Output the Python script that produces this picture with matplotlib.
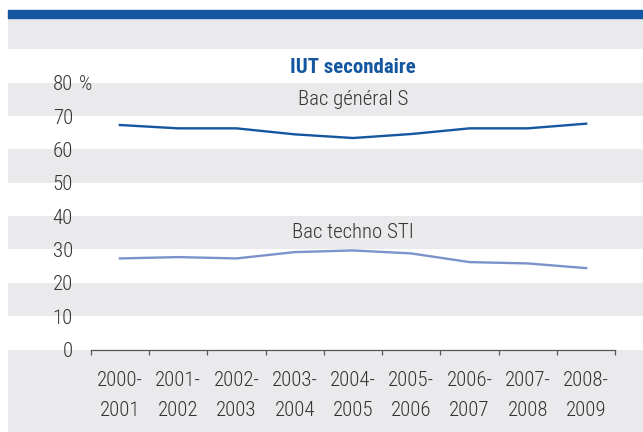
import matplotlib
matplotlib.use("Agg")
import matplotlib.pyplot as plt
from matplotlib import font_manager
from matplotlib.patches import Rectangle

# ---------------- data ----------------
categories = ["2000-\n2001", "2001-\n2002", "2002-\n2003", "2003-\n2004", "2004-\n2005",
              "2005-\n2006", "2006-\n2007", "2007-\n2008", "2008-\n2009"]
bac_general_s = [67.3, 66.3, 66.3, 64.5, 63.4, 64.6, 66.3, 66.3, 67.7]
bac_techno_sti = [27.3, 27.7, 27.3, 29.2, 29.7, 28.8, 26.2, 25.8, 24.4]
y_ticks = [0, 10, 20, 30, 40, 50, 60, 70, 80]
y_ticklabels = ["0", "10", "20", "30", "40", "50", "60", "70", "80"]
title = "IUT secondaire"
series_names = ["Bac général S", "Bac techno STI"]

# ---------------- fonts ----------------
available = {f.name for f in font_manager.fontManager.ttflist}
family = "DejaVu Sans"
for cand in ["Roboto Condensed", "Liberation Sans Narrow", "DejaVu Sans Condensed",
             "Open Sans Condensed", "Liberation Sans"]:
    if cand in available:
        family = cand
        break
plt.rcParams["font.family"] = [family, "DejaVu Sans"]
LW = "light"

TEXT = "#333333"
BLUE = "#1457A0"
LIGHT = "#7B92CB"
BAND = "#EAEAEC"

W, H = 643, 432
fig = plt.figure(figsize=(W / 100, H / 100), dpi=100)
fig.patch.set_facecolor("white")

# blue band at top
fig.patches.append(Rectangle((8 / W, 1 - 18 / H), 1 - 8 / W, 8 / H,
                             transform=fig.transFigure, color=BLUE, zorder=0))

# axes spanning the whole area below the blue band
ax = fig.add_axes([8 / W, 0, 1 - 8 / W, 1 - 18 / H])
ax.set_facecolor("white")

px_x = (615.3 - 90.7) / 9.0
x0 = 90.7
px_y = (349.5 - 116.0) / 70.0
y0 = 349.5
ax.set_xlim(-(x0 - 8) / px_x, 9 + (W - 615.3) / px_x)
ax.set_ylim(-(H - y0) / px_y, (y0 - 18) / px_y)

ymin, ymax = ax.get_ylim()
# alternating bands
bands = [(ymin, 0)] + [(v, v + 10) for v in range(10, 90, 20)] + [(90, ymax)]
for lo, hi in bands:
    ax.axhspan(lo, hi, color=BAND, lw=0, zorder=0)

xs = [i + 0.5 for i in range(len(categories))]
ax.plot(xs, bac_general_s, color=BLUE, lw=1.7, solid_joinstyle="round", zorder=3)
ax.plot(xs, bac_techno_sti, color=LIGHT, lw=1.7, solid_joinstyle="round", zorder=3)

for s in ["top", "right", "left"]:
    ax.spines[s].set_visible(False)
ax.spines["bottom"].set_position(("data", 0))
ax.spines["bottom"].set_bounds(0, 9)
ax.spines["bottom"].set_color("#555555")
ax.spines["bottom"].set_linewidth(0.9)
ax.spines["bottom"].set_zorder(4)

ax.set_xticks(range(0, 10))
ax.set_xticklabels([""] * 10)
ax.tick_params(axis="x", which="major", length=3.8, width=0.9, color="#555555", direction="out")
ax.set_xticks(xs, minor=True)
ax.set_xticklabels(categories, minor=True, fontsize=15, color=TEXT, linespacing=1.72,
                   fontweight=LW)
ax.tick_params(axis="x", which="minor", length=0, pad=15.5)

ax.set_yticks(y_ticks)
ax.set_yticklabels(y_ticklabels, fontsize=15, color=TEXT, fontweight=LW)
ax.tick_params(axis="y", length=0, pad=-(73 - 8) * 0.72)

ax.annotate("%", xy=(0, 80), xycoords=("axes fraction", "data"),
            xytext=((78.5 - 8) * 0.72, 0), textcoords="offset points",
            ha="left", va="center_baseline", fontsize=15, color=TEXT, fontweight=LW)

ax.text(4.5, 83.0, title, ha="center", va="baseline", fontsize=15,
        fontweight="bold", color=BLUE)
ax.text(4.5, 73.3, series_names[0], ha="center", va="baseline", fontsize=15, color=TEXT,
        fontweight=LW)
ax.text(4.5, 33.4, series_names[1], ha="center", va="baseline", fontsize=15, color=TEXT,
        fontweight=LW)

fig.savefig("out.png", dpi=100, facecolor="white")
